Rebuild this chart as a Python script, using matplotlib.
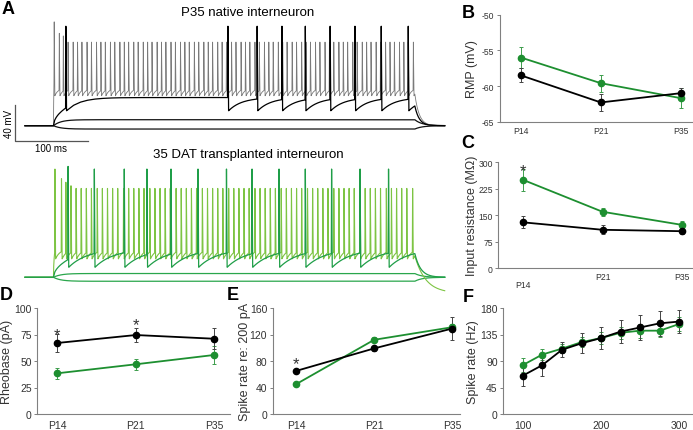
import numpy as np
import matplotlib
matplotlib.use("Agg")
import matplotlib.pyplot as plt

plt.rcParams["font.family"] = ["Liberation Sans", "DejaVu Sans"]
plt.rcParams["axes.unicode_minus"] = False

W, H = 693, 431
MS_PX = 0.73    # px per ms in the panel A traces
MV_PX = 0.88    # px per mV in the panel A traces
V_REST = -60.0
STIM_ON, STIM_OFF, T_END = 39.0, 534.0, 575.0

# panel A, P35 native interneuron (spike times in ms, peaks in mV)
gray_spikes = [40, 47, 52.5,
               59, 66, 72, 78, 85, 91, 98, 104, 110, 117, 123, 130, 136, 142, 149,
               155, 162, 168, 174, 181, 187, 193, 200, 206, 213, 219, 225, 232, 238,
               245, 251, 257, 264, 270, 276, 283, 289, 296, 302, 308, 315, 321, 328,
               334, 340, 347, 353, 359, 366, 372, 379, 385, 391, 398, 404, 411, 417,
               423, 430, 436, 442, 449, 455, 462, 468, 474, 481, 487, 494, 500, 506,
               513, 519, 525, 532]
gray_peaks_first = [58, 45, 42]
gray_peak_rest = 35
black_spikes = [56, 278, 318, 352, 384, 418, 452, 488, 525]
black_peak = 53
native_subthreshold = [-53.2, -63.8]

# panel A, transplanted interneuron
light_spikes = [41, 50, 56, 63,
                70, 77, 84, 91, 99, 106, 113, 120, 127, 135, 142, 149, 156, 163, 171,
                178, 185, 192, 199, 207, 214, 221, 228, 235, 243, 250, 257, 264, 271,
                279, 286, 293, 300, 307, 315, 322, 329, 336, 343, 351, 358, 365, 372,
                379, 387, 394, 401, 408, 415, 423, 430, 437, 444, 451, 459, 466, 473,
                480, 487, 495, 502, 509, 516, 523, 531]
light_peaks_first = [63, 52, 48, 44]
light_peak_rest = 41
dark_spikes = [59, 95, 136, 167, 200, 237, 276, 311, 348, 384, 420, 459, 498]
dark_peaks_first = [66]
dark_peak_rest = 63
transplant_subthreshold = [-55.7, -64.5]

# panels B-E
ages = ["P14", "P21", "P35"]
rmp_native = [-58.5, -62.3, -61.0]
rmp_native_err = [1.0, 1.2, 0.7]
rmp_transplant = [-56.0, -59.6, -61.7]
rmp_transplant_err = [1.5, 1.2, 1.4]
rin_native = [130, 109, 105]
rin_native_err = [17, 13, 8]
rin_transplant = [250, 160, 123]
rin_transplant_err = [32, 12, 12]
rheo_native = [67, 74.5, 71]
rheo_native_err = [8.5, 7, 10]
rheo_transplant = [38.4, 46.9, 55.7]
rheo_transplant_err = [5, 5, 8.5]
rate200_native = [65, 99, 129]
rate200_native_err = [3, 4, 17.5]
rate200_transplant = [45, 112, 131]
rate200_transplant_err = [3, 4, 5.5]

# panel F
current_pa = [100, 125, 150, 175, 200, 225, 250, 275, 300]
fi_native = [65, 83, 109, 120, 129, 140, 147, 154, 157]
fi_native_err = [17, 19, 13, 17, 18, 20, 21, 21, 20]
fi_transplant = [83, 101, 111, 122, 129, 138, 141.5, 141.5, 153]
fi_transplant_err = [12, 10, 8, 8, 10, 10, 12, 10, 12]

GREEN = "#1d8f30"
GREEN_ERR = "#3d9d4c"
LIGHT = "#7dc443"
DARK = "#1f9e48"
SUB_GREEN = "#2aa64c"

fig = plt.figure(figsize=(W / 100, H / 100), dpi=100)


def px_axes(x0, y0, x1, y1):
    return fig.add_axes([x0 / W, 1 - y1 / H, (x1 - x0) / W, (y1 - y0) / H])


def spike_train(spikes, peaks, pre, trough, level, tau, post, post_tau):
    kt, kv = [0.0, STIM_ON], [V_REST, V_REST]
    first = spikes[0] - 0.4
    s = np.linspace(STIM_ON, first, 12)[1:]
    kt += list(s)
    kv += list(V_REST + (pre - V_REST) * np.sqrt((s - STIM_ON) / (first - STIM_ON)))
    stops = list(spikes[1:]) + [STIM_OFF]
    for ts, pk, stop in zip(spikes, peaks, stops):
        kt += [ts, ts + 0.9]
        kv += [pk, trough]
        end = STIM_OFF if stop == STIM_OFF else stop - 0.4
        r = np.linspace(ts + 0.9, end, 25)[1:]
        kt += list(r)
        kv += list(level + (trough - level) * np.exp(-(r - ts - 0.9) / tau))
    v_off = kv[-1]
    r = np.linspace(STIM_OFF, T_END, 80)[1:]
    kt += list(r)
    kv += list(post + (v_off - post) * np.exp(-(r - STIM_OFF) / post_tau))
    t = np.arange(0, T_END, 0.05)
    return t, np.interp(t, kt, kv)


def step_trace(level, tau):
    t = np.arange(0, T_END, 0.05)
    v = np.full_like(t, V_REST)
    on = (t >= STIM_ON) & (t < STIM_OFF)
    v[on] = V_REST + (level - V_REST) * (1 - np.exp(-(t[on] - STIM_ON) / tau))
    v_off = V_REST + (level - V_REST) * (1 - np.exp(-(STIM_OFF - STIM_ON) / tau))
    off = t >= STIM_OFF
    v[off] = V_REST + (v_off - V_REST) * np.exp(-(t[off] - STIM_OFF) / tau)
    return t, v


def trace_axes(y0, y1, base_y):
    ax = px_axes(0, y0, 450, y1)
    ax.set_xlim(-25 / MS_PX, 425 / MS_PX)
    ax.set_ylim(V_REST - (y1 - base_y) / MV_PX, V_REST + (base_y - y0) / MV_PX)
    ax.axis("off")
    return ax


# ---- panel A, native
ax = trace_axes(15, 160, 126.7)
for level in native_subthreshold:
    ax.plot(*step_trace(level, 10), color="#111111", lw=0.9)
peaks = gray_peaks_first + [gray_peak_rest] * (len(gray_spikes) - len(gray_peaks_first))
ax.plot(*spike_train(gray_spikes, peaks, -22, -26, -18, 4, V_REST, 6), color="#7a7a7a", lw=0.6)
peaks = [black_peak] * len(black_spikes)
ax.plot(*spike_train(black_spikes, peaks, -40, -43, -28, 18, V_REST, 6), color="#000000", lw=0.9)
# scale bar
xb = -10 / MS_PX
yb = V_REST - (141.5 - 126.7) / MV_PX
ax.plot([xb, xb, xb + 100], [yb + 40, yb, yb], color="#555555", lw=0.9, clip_on=False)
ax.text(xb - 8, yb + 20, "40 mV", rotation=90, ha="center", va="center", fontsize=7)
ax.text(xb + 50, yb - 3, "100 ms", ha="center", va="top", fontsize=7)

# ---- panel A, transplanted
ax = trace_axes(160, 300, 278.3)
for level in transplant_subthreshold:
    ax.plot(*step_trace(level, 10), color=SUB_GREEN, lw=0.9)
peaks = light_peaks_first + [light_peak_rest] * (len(light_spikes) - len(light_peaks_first))
ax.plot(*spike_train(light_spikes, peaks, -32, -39, -28, 6, -78, 15), color=LIGHT, lw=0.8)
peaks = dark_peaks_first + [dark_peak_rest] * (len(dark_spikes) - len(dark_peaks_first))
ax.plot(*spike_train(dark_spikes, peaks, -40, -48.6, -28, 25, V_REST, 8), color=DARK, lw=0.9)

fig.text(248 / W, 1 - 13.5 / H, "P35 native interneuron", ha="center", va="center", fontsize=9.5)
fig.text(248 / W, 1 - 155 / H, "35 DAT transplanted interneuron", ha="center", va="center",
         fontsize=9.5)


def style(ax, ylim, yticks, xlim, ylabel, label_x, tick_size):
    ax.set_xlim(*xlim)
    ax.set_ylim(*ylim)
    ax.set_yticks(yticks)
    for s in ("top", "right"):
        ax.spines[s].set_visible(False)
    for s in ("left", "bottom"):
        ax.spines[s].set_color("#808080")
        ax.spines[s].set_linewidth(0.8)
    ax.tick_params(axis="y", length=2.5, width=0.7, color="#808080", labelsize=tick_size,
                   labelcolor="#333333", pad=1.5)
    ax.tick_params(axis="x", length=0, labelsize=tick_size, labelcolor="#333333", pad=4.5)
    ax.set_ylabel(ylabel, fontsize=9, color="#333333")
    ax.yaxis.set_label_coords(label_x, 0.5)


def series(ax, x, y, err, color, ecolor):
    ax.errorbar(x, y, yerr=err, color=color, ecolor=ecolor, lw=1.3, elinewidth=0.7,
                capsize=1.5, capthick=0.7, marker="o", ms=4.5, mec=color, mfc=color,
                clip_on=False, zorder=3)


def star(ax, x, y):
    ax.annotate("*", (x, y), xytext=(0, -7), textcoords="offset points", ha="center",
                va="baseline", fontsize=12, color="#333333")


xi = np.arange(len(ages))

# ---- B
ax = px_axes(500, 15.7, 692, 122.7)
series(ax, xi, rmp_transplant, rmp_transplant_err, GREEN, GREEN_ERR)
series(ax, xi, rmp_native, rmp_native_err, "#000000", "#444444")
style(ax, (-65, -50), [-65, -60, -55, -50], (-0.26, 2.14), "RMP (mV)", -0.117, 6.2)
ax.set_xticks(xi)
ax.set_xticklabels(ages)
ax.tick_params(axis="x", pad=3)

# ---- C
ax = px_axes(498.3, 163.3, 692, 269.3)
series(ax, xi, rin_transplant, rin_transplant_err, GREEN, GREEN_ERR)
series(ax, xi, rin_native, rin_native_err, "#000000", "#444444")
style(ax, (0, 300), [0, 75, 150, 225, 300], (-0.316, 2.13), "Input resistance (M\u03a9)",
      -0.105, 6.2)
ax.set_xticks(xi)
ax.set_xticklabels(ages)
ax.tick_params(axis="x", pad=2.5)
ax.xaxis.get_major_ticks()[0].set_pad(8.5)
star(ax, 0, 290)

# ---- D
ax = px_axes(37.3, 309, 230, 415)
series(ax, xi, rheo_transplant, rheo_transplant_err, GREEN, GREEN_ERR)
series(ax, xi, rheo_native, rheo_native_err, "#000000", "#444444")
style(ax, (0, 100), [0, 25, 50, 75, 100], (-0.255, 2.2), "Rheobase (pA)", -0.126, 7.5)
ax.set_xticks(xi)
ax.set_xticklabels(ages)
star(ax, 0, 80)
star(ax, 1, 89)

# ---- E
ax = px_axes(272.7, 309, 460, 415)
series(ax, xi, rate200_transplant, rate200_transplant_err, GREEN, GREEN_ERR)
series(ax, xi, rate200_native, rate200_native_err, "#000000", "#444444")
style(ax, (0, 160), [0, 40, 80, 120, 160], (-0.3, 2.1), "Spike rate re: 200 pA", -0.116, 7.5)
ax.set_xticks(xi)
ax.set_xticklabels(ages)
star(ax, 0, 84.5)

# ---- F
ax = px_axes(503.3, 309, 692, 415)
series(ax, current_pa, fi_transplant, fi_transplant_err, GREEN, GREEN_ERR)
series(ax, current_pa, fi_native, fi_native_err, "#000000", "#444444")
style(ax, (0, 180), [0, 45, 90, 135, 180], (75.2, 316), "Spike rate (Hz)", -0.129, 7.5)
ax.set_xticks([100, 200, 300])

# panel letters
for letter, x, y in [("A", 8, 9), ("B", 468, 14), ("C", 467.5, 143.5),
                     ("D", 6.5, 296), ("E", 233, 295), ("F", 468, 297)]:
    fig.text(x / W, 1 - y / H, letter, ha="center", va="center", fontsize=13,
             fontweight="bold")

fig.savefig("out.png", dpi=100)
